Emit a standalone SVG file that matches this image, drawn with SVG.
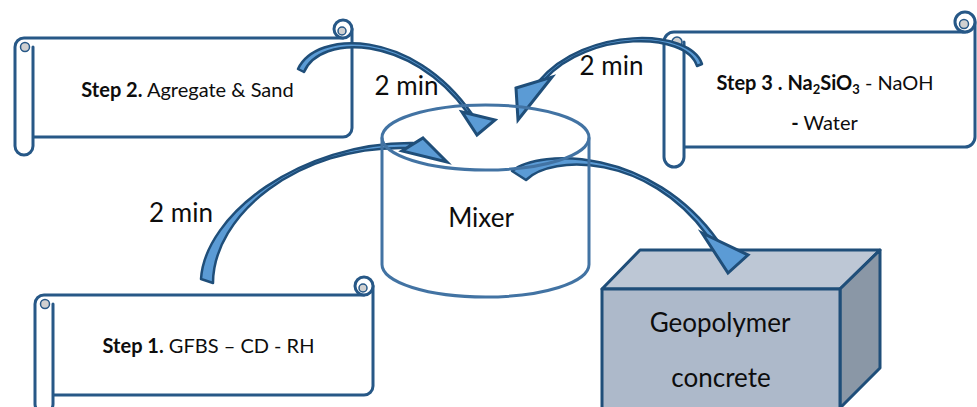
<svg xmlns="http://www.w3.org/2000/svg" width="977" height="407" viewBox="0 0 977 407">
  <style>
    .scroll-fill { fill: #ffffff; stroke: none; }
    .scroll-line { fill: none; stroke: #275887; stroke-width: 3; stroke-linecap: round; stroke-linejoin: round; }
    .curl { fill: #ffffff; stroke: #275887; stroke-width: 3; }
    .curl-in { fill: #d0d0d0; stroke: #275887; stroke-width: 1.5; }
    .label { font-family: Lato, "Open Sans", "Liberation Sans", sans-serif; fill: #0d0d0d; }
    .step { font-size: 20px; }
    .big { font-size: 26px; }
    .b { font-weight: bold; }
    .band { fill: #5b9bd5; stroke: #1f4e79; stroke-width: 2.5; stroke-linejoin: round; }
    .head { fill: #5b9bd5; stroke: #1f4e79; stroke-width: 3; stroke-linejoin: miter; }
    .cyl { fill: none; stroke: #4273a3; stroke-width: 3; }
    .cube { stroke: #1f4e79; stroke-width: 3; stroke-linejoin: round; }
  </style>

  <!-- Step 2 scroll -->
  <g id="step2">
    <rect class="scroll-fill" x="24" y="38" width="328" height="99"/>
    <rect class="scroll-fill" x="15" y="38" width="18" height="117" rx="9"/>
    <path class="scroll-line" d="M15,146 L15,47 A9 9 0 0 1 24,38 L343,38 M352,29 L352,128 A9 9 0 0 1 343,137 L33,137 M33,47 L33,146 A9 9 0 0 1 15,146"/>
    <circle class="curl" cx="343" cy="29" r="9"/>
    <circle class="curl-in" cx="342" cy="31" r="4"/>
    <circle class="curl-in" cx="25" cy="47" r="4.5"/>
    <text class="label step" x="187.5" y="97" text-anchor="middle"><tspan class="b">Step 2.</tspan> Agregate &amp; Sand</text>
  </g>

  <!-- Step 3 scroll -->
  <g id="step3">
    <rect class="scroll-fill" x="674" y="32" width="301" height="115"/>
    <rect class="scroll-fill" x="664" y="32" width="20" height="135" rx="10"/>
    <path class="scroll-line" d="M664,157 L664,42 A10 10 0 0 1 674,32 L965,32 M975,22 L975,137 A10 10 0 0 1 965,147 L684,147 M684,42 L684,157 A10 10 0 0 1 664,157"/>
    <circle class="curl" cx="965" cy="22" r="10"/>
    <circle class="curl-in" cx="964" cy="24" r="4.5"/>
    <circle class="curl-in" cx="677" cy="42" r="5"/>
    <text class="label step" x="825" y="90" text-anchor="middle"><tspan class="b">Step 3 . Na<tspan font-size="13" dy="4">2</tspan><tspan dy="-4">SiO</tspan><tspan font-size="13" dy="4">3</tspan></tspan><tspan dy="-4"> - NaOH</tspan></text>
    <text class="label step" x="824.5" y="130" text-anchor="middle"><tspan class="b">-</tspan> Water</text>
  </g>

  <!-- Step 1 scroll -->
  <g id="step1">
    <rect class="scroll-fill" x="44" y="295" width="329" height="100"/>
    <rect class="scroll-fill" x="35" y="295" width="18" height="118" rx="9"/>
    <path class="scroll-line" d="M35,404 L35,304 A9 9 0 0 1 44,295 L364,295 M373,286 L373,386 A9 9 0 0 1 364,395 L53,395 M53,304 L53,404 A9 9 0 0 1 35,404"/>
    <circle class="curl" cx="364" cy="286" r="9"/>
    <circle class="curl-in" cx="363" cy="288" r="4"/>
    <circle class="curl-in" cx="45" cy="304" r="4.5"/>
    <text class="label step" x="208.5" y="353" text-anchor="middle"><tspan class="b">Step 1.</tspan> GFBS – CD - RH</text>
  </g>

  <!-- Product block -->
  <g id="geopolymer">
    <polygon class="cube" fill="#bdc7d5" points="602,289 640,250 880,250 840,289"/>
    <polygon class="cube" fill="#8a97a6" points="840,289 880,250 880,368 840,408"/>
    <rect class="cube" fill="#adb9ca" x="602" y="289" width="238" height="120"/>
    <text class="label big" x="720" y="332" text-anchor="middle">Geopolymer</text>
    <text class="label big" x="721" y="387" text-anchor="middle">concrete</text>
  </g>

  <!-- Curved flow arrows -->
  <g id="connectors">
    <!-- Step 2 to mixer -->
    <path class="band" d="M298,69 C316,30 412,28 472,114 L467,112 C410,34 320,34 304,72 Z"/>
    <polygon class="head" points="462,112 495,120 477,135"/>
    <!-- Step 3 to mixer -->
    <path class="band" d="M702,64 C690,28 585,26 539,81 L545,79 C588,31 686,31 697,66 Z"/>
    <polygon class="head" points="516,88 552,77 518,120"/>
    <!-- Step 1 to mixer -->
    <path class="band" d="M201,279 C205,215 300,142 413,143 L407,148 C297,145 213,216 213,283 Z"/>
    <polygon class="head" points="423,138 447,162 402,151"/>
    <!-- Mixer to product -->
    <path class="band" d="M512,171 C540,148 652,148 718,241 L707,235 C648,154 552,154 526,180 Z"/>
    <polygon class="head" points="702,233 748,255 728,273"/>
    <text class="label big" x="406.5" y="95" text-anchor="middle">2 min</text>
    <text class="label big" x="611.5" y="75" text-anchor="middle">2 min</text>
    <text class="label big" x="181" y="222" text-anchor="middle">2 min</text>
  </g>

  <!-- Mixer drum -->
  <g id="mixer">
    <ellipse class="cyl" cx="485.5" cy="137.5" rx="103.5" ry="32.5"/>
    <path class="cyl" d="M382,137.5 L382,264.5 A103.5 32.5 0 0 0 589,264.5 L589,137.5"/>
    <text class="label big" x="481" y="227" text-anchor="middle">Mixer</text>
  </g>
</svg>
